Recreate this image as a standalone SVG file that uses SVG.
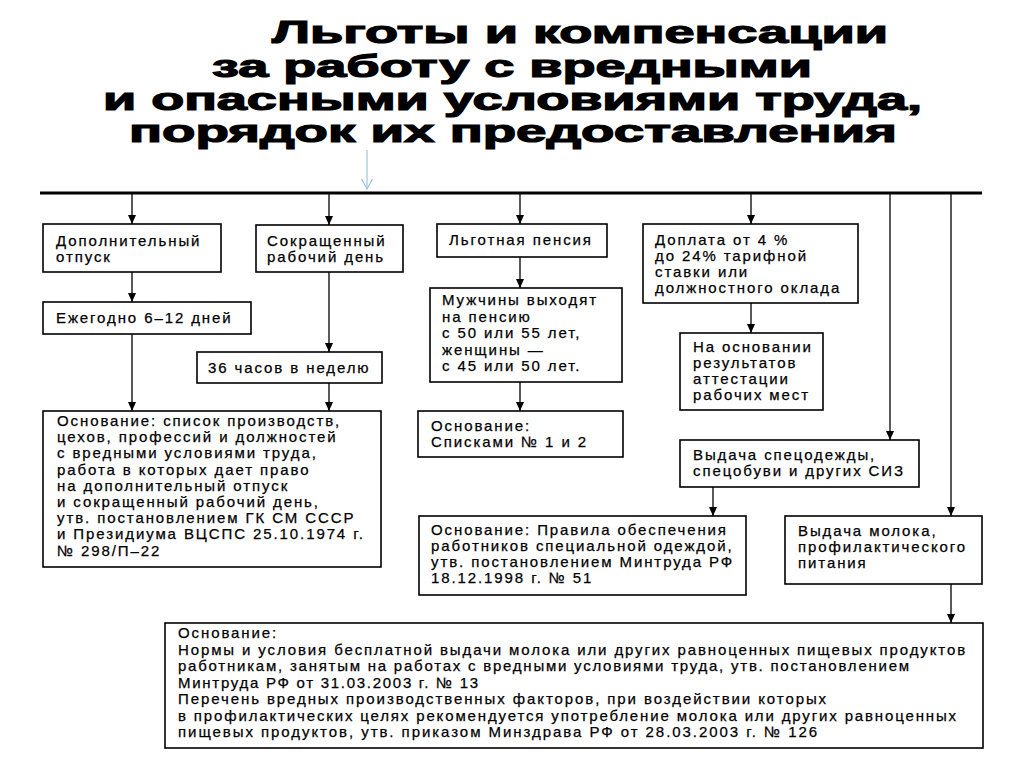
<svg xmlns="http://www.w3.org/2000/svg" width="1024" height="767" viewBox="0 0 1024 767">
<defs>
<marker id="ah" markerUnits="userSpaceOnUse" markerWidth="10" markerHeight="9" refX="9" refY="4" orient="auto">
<path d="M0,0 L9,4 L0,8 Z" fill="#000"/>
</marker>
<marker id="ab" markerUnits="userSpaceOnUse" markerWidth="12" markerHeight="12" refX="10" refY="6" orient="auto">
<path d="M0,0.5 L10,6 L0,11.5" fill="none" stroke="#9fc6d6" stroke-width="1.2"/>
</marker>
</defs>
<style>
.t{font-family:"Liberation Sans",Arial,sans-serif;font-weight:bold;font-size:31px;fill:#000;stroke:#000;stroke-width:1.2px}
.b{fill:#fff;stroke:#000;stroke-width:1.6}
.x{font-family:"Liberation Sans",Arial,sans-serif;font-size:15px;letter-spacing:1.9px;fill:#000;stroke:#000;stroke-width:0.25px}
.a{fill:none;stroke:#000;stroke-width:1.3;marker-end:url(#ah)}
</style>
<rect width="1024" height="767" fill="#fff"/>
<g id="title">
<text class="t" x="272" y="43" textLength="616" lengthAdjust="spacingAndGlyphs">Льготы и компенсации</text>
<text class="t" x="212" y="77" textLength="600" lengthAdjust="spacingAndGlyphs">за работу с вредными</text>
<text class="t" x="103" y="110" textLength="819" lengthAdjust="spacingAndGlyphs">и опасными условиями труда,</text>
<text class="t" x="129" y="142" textLength="768" lengthAdjust="spacingAndGlyphs">порядок их предоставления</text>
</g>
<g id="connectors">
<line x1="40" y1="193" x2="982" y2="193" stroke="#000" stroke-width="3"/>
<line x1="367" y1="150" x2="367" y2="189" stroke="#9fc6d6" stroke-width="1.2" marker-end="url(#ab)"/>
<line class="a" x1="132" y1="194" x2="132" y2="224"/>
<line class="a" x1="132" y1="272" x2="132" y2="302"/>
<line class="a" x1="132" y1="334" x2="132" y2="411"/>
<line class="a" x1="329" y1="194" x2="329" y2="225"/>
<line class="a" x1="329" y1="272" x2="329" y2="352"/>
<line class="a" x1="329" y1="383" x2="329" y2="411"/>
<line class="a" x1="520" y1="194" x2="520" y2="224"/>
<line class="a" x1="520" y1="257" x2="520" y2="288"/>
<line class="a" x1="520" y1="382" x2="520" y2="411"/>
<line class="a" x1="751" y1="194" x2="751" y2="224"/>
<line class="a" x1="751" y1="303" x2="751" y2="333"/>
<line class="a" x1="890" y1="194" x2="890" y2="440"/>
<line class="a" x1="713" y1="487" x2="713" y2="516"/>
<line class="a" x1="951" y1="194" x2="951" y2="516"/>
<line class="a" x1="951" y1="584" x2="951" y2="623"/>
</g>
<g id="n-otpusk">
<rect class="b" x="43" y="224" width="178" height="48"/>
<text class="x" x="56" y="246">Дополнительный</text>
<text class="x" x="56" y="262">отпуск</text>
</g>
<g id="n-ezhegodno">
<rect class="b" x="43" y="302" width="208" height="32"/>
<text class="x" x="56" y="323">Ежегодно 6–12 дней</text>
</g>
<g id="n-sokr">
<rect class="b" x="256" y="225" width="147" height="47"/>
<text class="x" x="267" y="246">Сокращенный</text>
<text class="x" x="267" y="262">рабочий день</text>
</g>
<g id="n-36">
<rect class="b" x="197" y="352" width="185" height="31"/>
<text class="x" x="208" y="373">36 часов в неделю</text>
</g>
<g id="n-osn1">
<rect class="b" x="43" y="411" width="338" height="156"/>
<text class="x" x="57" y="426">Основание: список производств,</text>
<text class="x" x="57" y="442.2">цехов, профессий и должностей</text>
<text class="x" x="57" y="458.4">с вредными условиями труда,</text>
<text class="x" x="57" y="474.6">работа в которых дает право</text>
<text class="x" x="57" y="490.8">на дополнительный отпуск</text>
<text class="x" x="57" y="507">и сокращенный рабочий день,</text>
<text class="x" x="57" y="523.2">утв. постановлением ГК СМ СССР</text>
<text class="x" x="57" y="539.4">и Президиума ВЦСПС 25.10.1974 г.</text>
<text class="x" x="57" y="555.6">№ 298/П–22</text>
</g>
<g id="n-pensia">
<rect class="b" x="437" y="224" width="170" height="33"/>
<text class="x" x="449" y="245">Льготная пенсия</text>
</g>
<g id="n-muzh">
<rect class="b" x="430" y="288" width="192" height="94"/>
<text class="x" x="442" y="305">Мужчины выходят</text>
<text class="x" x="442" y="321.5">на пенсию</text>
<text class="x" x="442" y="338">с 50 или 55 лет,</text>
<text class="x" x="442" y="354.5">женщины —</text>
<text class="x" x="442" y="371">с 45 или 50 лет.</text>
</g>
<g id="n-spiski">
<rect class="b" x="418" y="411" width="205" height="46"/>
<text class="x" x="431" y="431">Основание:</text>
<text class="x" x="431" y="447">Списками № 1 и 2</text>
</g>
<g id="n-doplata">
<rect class="b" x="643" y="224" width="215" height="79"/>
<text class="x" x="655" y="245">Доплата от 4 %</text>
<text class="x" x="655" y="261">до 24% тарифной</text>
<text class="x" x="655" y="277">ставки или</text>
<text class="x" x="655" y="293">должностного оклада</text>
</g>
<g id="n-attest">
<rect class="b" x="680" y="333" width="143" height="77"/>
<text class="x" x="693" y="352">На основании</text>
<text class="x" x="693" y="368">результатов</text>
<text class="x" x="693" y="384">аттестации</text>
<text class="x" x="693" y="400">рабочих мест</text>
</g>
<g id="n-siz">
<rect class="b" x="680" y="440" width="239" height="47"/>
<text class="x" x="693" y="460">Выдача спецодежды,</text>
<text class="x" x="693" y="476">спецобуви и других СИЗ</text>
</g>
<g id="n-pravila">
<rect class="b" x="419" y="516" width="327" height="79"/>
<text class="x" x="431" y="535">Основание: Правила обеспечения</text>
<text class="x" x="431" y="551">работников специальной одеждой,</text>
<text class="x" x="431" y="567">утв. постановлением Минтруда РФ</text>
<text class="x" x="431" y="583">18.12.1998 г. № 51</text>
</g>
<g id="n-moloko">
<rect class="b" x="785" y="516" width="197" height="68"/>
<text class="x" x="798" y="536">Выдача молока,</text>
<text class="x" x="798" y="552">профилактического</text>
<text class="x" x="798" y="568">питания</text>
</g>
<g id="n-osn-moloko">
<rect class="b" x="165" y="623" width="818" height="125"/>
<text class="x" x="178" y="638">Основание:</text>
<text class="x" x="178" y="654.5" textLength="789" lengthAdjust="spacing">Нормы и условия бесплатной выдачи молока или других равноценных пищевых продуктов</text>
<text class="x" x="178" y="671" textLength="733" lengthAdjust="spacing">работникам, занятым на работах с вредными условиями труда, утв. постановлением</text>
<text class="x" x="178" y="687.5" textLength="302" lengthAdjust="spacing">Минтруда РФ от 31.03.2003 г. № 13</text>
<text class="x" x="178" y="704" textLength="650" lengthAdjust="spacing">Перечень вредных производственных факторов, при воздействии которых</text>
<text class="x" x="178" y="720.5" textLength="780" lengthAdjust="spacing">в профилактических целях рекомендуется употребление молока или других равноценных</text>
<text class="x" x="178" y="737" textLength="641" lengthAdjust="spacing">пищевых продуктов, утв. приказом Минздрава РФ от 28.03.2003 г. № 126</text>
</g>
</svg>
